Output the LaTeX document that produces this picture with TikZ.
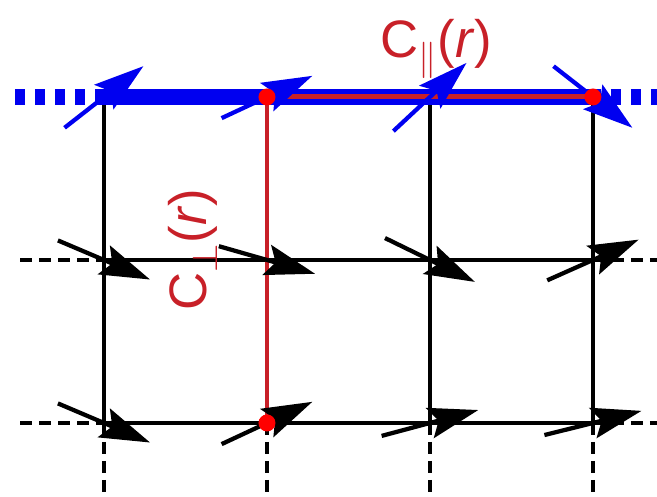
\documentclass[tikz,border=0pt]{standalone}
\usepackage{fontspec}
\setmainfont{Liberation Sans}
\usetikzlibrary{arrows.meta}
\definecolor{spinblue}{RGB}{0,0,240}
\definecolor{corrred}{RGB}{200,32,40}
\definecolor{dotred}{RGB}{255,0,0}

\begin{document}
\begin{tikzpicture}[x=3.26cm,y=3.26cm,
    bond/.style={line width=0.75mm},
    ext/.style={bond,dash pattern=on 2.4mm off 1.4mm},
    chain/.style={spinblue,line width=3.2mm},
    corr/.style={corrred,line width=1mm},
    spin/.style={line width=0.85mm,-{Stealth[length=10mm,width=6.2mm,inset=1.8mm]}},
    site/.style={circle,fill=dotred,inner sep=0pt,minimum size=3.4mm},
    lbl/.style={text=corrred,font=\fontsize{30}{34}\selectfont}]
  \useasboundingbox (-0.638,-2.454) rectangle (3.393,0.595);
  % lattice sites and loose ends
  \foreach \i in {0,...,3} {
    \foreach \j in {0,1,2}
      \coordinate (s\i\j) at (\i,-\j);
    \coordinate (b\i) at (\i,-2.454);
  }
  \foreach \j in {0,1,2} {
    \coordinate (w\j) at (-0.515,-\j);
    \coordinate (e\j) at (3.393,-\j);
  }
  \coordinate (w0) at (-0.546,0);
  % bonds
  \foreach \j in {1,2} {
    \draw[ext] (w\j) -- (s0\j);
    \draw[bond] (s0\j) -- (s3\j);
    \draw[ext] (s3\j) -- (e\j);
  }
  \foreach \i in {0,...,3} {
    \draw[bond] (s\i0) -- (s\i2);
    \draw[ext] (s\i2) -- (b\i);
  }
  % the chain on top
  \draw[chain,dash pattern=on 2mm off 2mm] (w0) -- (s00);
  \draw[chain] (s00) -- (s30);
  \draw[chain,dash pattern=on 2mm off 2mm,dash phase=-3.6mm] (s30) -- (e0);
  % correlation paths
  \draw[corr] (s10) -- (s30);
  \draw[corr,line width=0.9mm] (s10) -- (s12);
  % spins
  \foreach \s/\a/\c in {00/38/spinblue,10/25/spinblue,20/43/spinblue,30/-38/spinblue,
      01/-23/black,11/-16/black,21/-26/black,31/24/black,
      02/-23/black,12/25/black,22/15/black,32/14/black}
    \draw[spin,\c] (s\s) ++(\a+180:0.307) -- ++(\a:0.614);
  % end points
  \node[site] (p10) at (s10) {};
  \node[site] (p30) at (s30) {};
  \node[site] (p12) at (s12) {};
  \node[lbl,anchor=base west] (cpar) at (1.66,0.245) {C$_{\parallel}$(\textit{r})};
  \node[lbl,rotate=90,anchor=base west] (cperp) at (0.632,-1.35) {C$_{\perp}$(\textit{r})};
\end{tikzpicture}
\end{document}
